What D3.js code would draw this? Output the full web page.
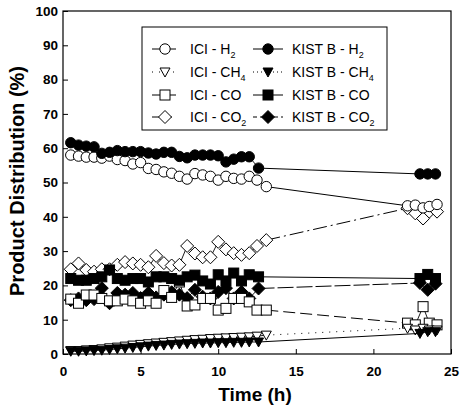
<!DOCTYPE html>
<html><head><meta charset="utf-8">
<script src="https://cdn.jsdelivr.net/npm/d3@7"></script>
<style>body{margin:0;background:#fff}</style>
</head><body>
<svg id="c" width="461" height="413"></svg>
<script>
// ---- data ----
const tICI = [0.5,1,1.5,2,2.5,3,3.5,4,4.5,5,5.5,6,6.5,7,7.5,8,8.5,9,9.5,10,10.5,11,11.5,12,12.5,13.1];
const tKIST = [0.5,1,1.5,2,2.5,3,3.5,4,4.5,5,5.5,6,6.5,7,7.5,8,8.5,9,9.5,10,10.5,11,11.5,12,12.6];
const iciH2 = [58,57.7,57.4,57.4,57.1,57.7,56.7,56.4,55.4,55.8,54.1,53.8,53.1,52.7,51.8,51.0,52.6,52.2,51.8,50.7,51.8,51.2,51.0,51.8,50.7,48.8];
const kistH2 = [61.6,60.9,60.6,60.4,58.5,58.8,59.3,59,59,59,58.6,58.3,58.8,58.8,57.6,57.2,58,58,58,57.8,56,56.8,57.5,57.5,54.2];
const iciCH4 = [1.0,1.0,1.2,1.3,1.5,1.8,2.0,2.3,2.6,2.8,3.0,3.2,3.4,3.6,3.8,4.0,4.2,4.3,4.5,4.6,4.7,4.8,4.9,5.0,5.2,5.5];
const kistCH4 = [0.8,0.8,0.9,1.0,1.1,1.3,1.5,1.7,1.9,2.1,2.3,2.5,2.6,2.8,2.9,3.0,3.1,3.2,3.2,3.3,3.3,3.4,3.4,3.5,3.5];
const iciCO = [16,14.8,17.2,17.2,16.2,15.5,15.5,16,15.5,14.8,15.5,14.8,18.5,16.5,21,14,14.3,16.2,16.2,12.8,13.3,16.2,16.2,15.2,12.8,12.8];
const kistCO = [22,21.5,21.5,22,22.5,24.5,22,21.5,22,22,21,22.5,22.5,22,21.5,22.5,23,21.3,20.4,23.1,21.3,23.6,21.3,23.1,22.5];
const iciCO2 = [24.7,26.4,24.5,24,24.7,24.7,26,26.8,26.4,26,25.3,28.6,26.5,25.8,26,31.5,29.3,28.2,28.2,32.7,30.5,29.4,28.9,29.4,31.5,33.2];
const kistCO2 = [15.7,16.2,15.7,16,19.2,14.8,17.8,17.3,17.8,16.3,17.8,16.5,17.3,18,17.3,16.3,18.7,16.7,16.2,18.1,19.2,16.2,18.1,16.2,19.1];
// late-time points
const tICIend = [22.2,22.7,23.2,23.6,24.1];
const tKISTend = [23.0,23.5,24.0];
const iciH2end = [43.2,43.4,42.6,43.0,43.6];
const kistH2end = [52.5,52.5,52.5];
const iciCH4end = [7.5,7.0,7.5,7.0,7.0];
const kistCH4end = [6.0,6.5,6.5];
const iciCOend = [9,8.5,13.8,9,8.5];
const kistCOend = [22,23.2,22];
const iciCO2end = [42.5,41,39.5,41.5,41.5];
const kistCO2end = [20.7,18.7,20.5];
const xTicks = [0,5,10,15,20,25];
const yTicks = [0,10,20,30,40,50,60,70,80,90,100];

const svg = d3.select("#c");
const L=63,R=451,T=11,B=354;
const x = d3.scaleLinear().domain([0,25]).range([L,R]);
const y = d3.scaleLinear().domain([0,100]).range([B,T]);
const FONT = "'Liberation Sans', Arial, sans-serif";

// frame
svg.append("rect").attr("x",L).attr("y",T).attr("width",R-L).attr("height",B-T)
  .attr("fill","none").attr("stroke","#000").attr("stroke-width",1.2);

// axes
const gx = svg.append("g").attr("transform",`translate(0,${B})`)
  .call(d3.axisBottom(x).tickValues(xTicks).tickSizeInner(-5).tickSizeOuter(0).tickPadding(12));
const gy = svg.append("g").attr("transform",`translate(${L},0)`)
  .call(d3.axisLeft(y).tickValues(yTicks).tickSizeInner(-5).tickSizeOuter(0).tickPadding(5));
[gx,gy].forEach(g=>{
  g.select(".domain").remove();
  g.selectAll("line").attr("stroke","#000").attr("stroke-width",1);
  g.selectAll("text").attr("font-family",FONT).attr("font-weight","bold").attr("font-size",13.5).attr("fill","#000");
});

svg.append("text").attr("x",255).attr("y",401).attr("text-anchor","middle")
  .attr("font-family",FONT).attr("font-weight","bold").attr("font-size",19).text("Time (h)");
svg.append("text").attr("transform",`translate(24,181) rotate(-90)`).attr("text-anchor","middle")
  .attr("font-family",FONT).attr("font-weight","bold").attr("font-size",20).text("Product Distribution (%)");

// marker drawer
function marker(g, shape, filled, cx, cy){
  const fill = filled ? "#000" : "#fff";
  let el;
  if(shape==="circle") el = g.append("circle").attr("cx",cx).attr("cy",cy).attr("r",5.2);
  else if(shape==="square") el = g.append("rect").attr("x",cx-5).attr("y",cy-5).attr("width",10).attr("height",10);
  else if(shape==="diamond") el = g.append("path").attr("d",`M${cx},${cy-6.5}L${cx+6.5},${cy}L${cx},${cy+6.5}L${cx-6.5},${cy}Z`);
  else if(shape==="tri") el = g.append("path").attr("d",`M${cx-5},${cy-4}L${cx+5},${cy-4}L${cx},${cy+5}Z`);
  el.attr("fill",fill).attr("stroke","#000").attr("stroke-width",1);
}

const series = [
  {t:tICI, v:iciCO2, te:tICIend, ve:iciCO2end, shape:"diamond", filled:false, dash:"14,4,2,4", ldash:"14,4,2,4", label:["ICI - CO","2"]},
  {t:tKIST, v:kistCO2, te:tKISTend, ve:kistCO2end, shape:"diamond", filled:true, dash:"16,3", ldash:"4,3", label:["KIST B - CO","2"]},
  {t:tICI, v:iciCO, te:tICIend, ve:iciCOend, shape:"square", filled:false, dash:"12,5", ldash:null, label:["ICI - CO",""]},
  {t:tKIST, v:kistCO, te:tKISTend, ve:kistCOend, shape:"square", filled:true, dash:null, ldash:null, label:["KIST B - CO",""]},
  {t:tICI, v:iciCH4, te:tICIend, ve:iciCH4end, shape:"tri", filled:false, dash:"1,6", ldash:"1,6", label:["ICI - CH","4"]},
  {t:tKIST, v:kistCH4, te:tKISTend, ve:kistCH4end, shape:"tri", filled:true, dash:null, ldash:"1,3", label:["KIST  B - CH","4"]},
  {t:tICI, v:iciH2, te:tICIend, ve:iciH2end, shape:"circle", filled:false, dash:null, ldash:null, label:["ICI - H","2"]},
  {t:tKIST, v:kistH2, te:tKISTend, ve:kistH2end, shape:"circle", filled:true, dash:null, ldash:null, label:["KIST  B - H","2"]}
];

const line = d3.line().x(d=>x(d[0])).y(d=>y(d[1]));
series.forEach(s=>{
  const pts = s.t.map((t,i)=>[t,s.v[i]]).concat(s.te.map((t,i)=>[t,s.ve[i]]));
  const n = s.t.length;
  svg.append("path").datum(pts.slice(0,n)).attr("d",line).attr("fill","none").attr("stroke","#000").attr("stroke-width",0.9);
  svg.append("path").datum(pts.slice(n-1,n+1)).attr("d",line).attr("fill","none").attr("stroke","#000").attr("stroke-width",1)
    .attr("stroke-dasharray",s.dash);
  svg.append("path").datum(pts.slice(n)).attr("d",line).attr("fill","none").attr("stroke","#000").attr("stroke-width",0.9);
  const g = svg.append("g");
  pts.forEach(p=>marker(g,s.shape,s.filled,x(p[0]),y(p[1])));
});

// legend
const lg = svg.append("g");
lg.append("rect").attr("x",142).attr("y",27).attr("width",245).attr("height",103)
  .attr("fill","#fff").attr("stroke","#000").attr("stroke-width",1);
const legendOrder = [[6,7],[4,5],[2,3],[0,1]];
const rowsY = [49,72,95,117];
legendOrder.forEach((pair,r)=>{
  pair.forEach((si,c)=>{
    const s = series[si];
    const x0 = c===0 ? 152 : 253, x1 = c===0 ? 176 : 283, mx = c===0 ? 165 : 268, tx = c===0 ? 190 : 292;
    const yy = rowsY[r];
    lg.append("line").attr("x1",x0).attr("x2",x1).attr("y1",yy).attr("y2",yy)
      .attr("stroke","#000").attr("stroke-width",1).attr("stroke-dasharray",s.ldash);
    marker(lg,s.shape,s.filled,mx,yy);
    const t = lg.append("text").attr("x",tx).attr("y",yy+5).attr("font-family",FONT).attr("font-size",14).attr("fill","#000");
    t.append("tspan").text(s.label[0]);
    if(s.label[1]) t.append("tspan").attr("dy",4).attr("font-size",9).text(s.label[1]);
  });
});
</script>
</body></html>
